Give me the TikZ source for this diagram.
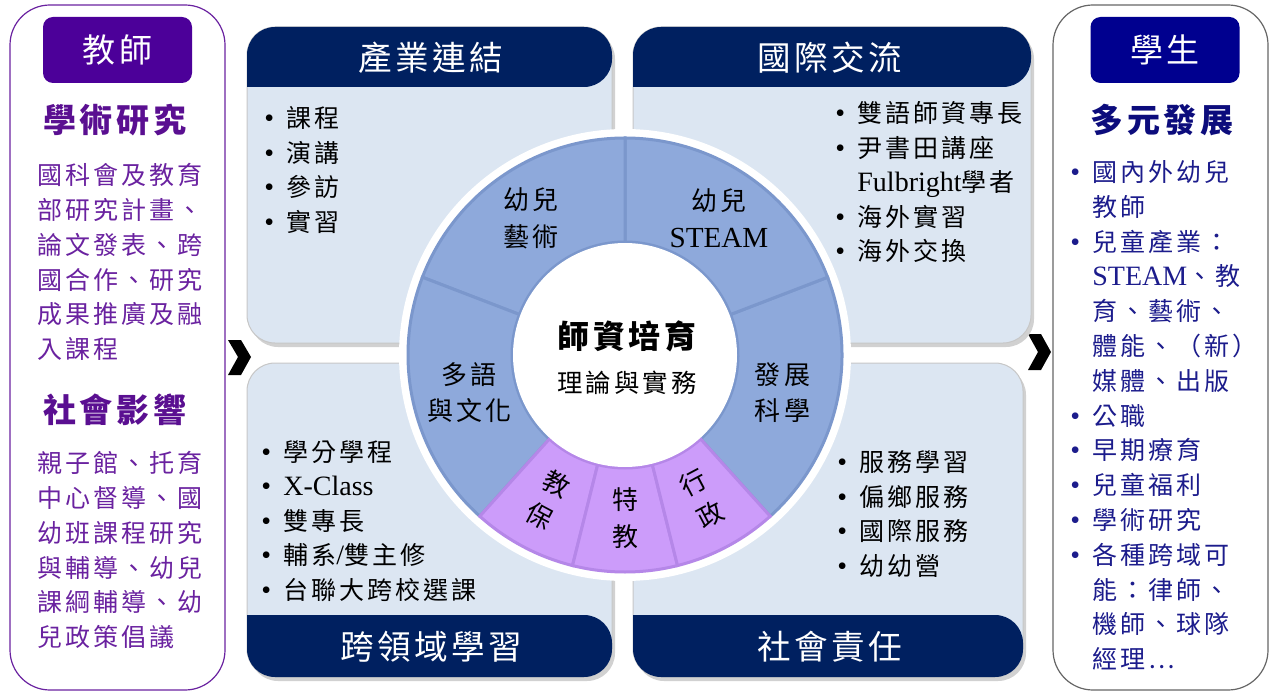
\documentclass[tikz,border=0pt]{standalone}
\usepackage{fontspec}
\setmainfont{Liberation Serif}
\newfontfamily\cjk[LetterSpace=12]{Noto Sans CJK TC}
\newfontfamily\cjkhd[LetterSpace=10]{Noto Sans CJK TC}
\newfontfamily\lat[Scale=1.12]{Liberation Serif}

\definecolor{navyhead}{HTML}{002060}
\definecolor{qbody}{HTML}{DCE6F2}
\definecolor{ringblue}{HTML}{8EA9DB}
\definecolor{ringline}{HTML}{7B97CC}
\definecolor{ringpurple}{HTML}{CC9CFA}
\definecolor{ringpline}{HTML}{B587E8}
\definecolor{tagpurple}{HTML}{4C0099}
\definecolor{headpurple}{HTML}{5A0F91}
\definecolor{txtpurple}{HTML}{6A22A0}
\definecolor{tagnavy}{HTML}{00008F}
\definecolor{headnavy}{HTML}{0C0C7C}
\definecolor{txtnavy}{HTML}{1C1C8C}

\newcommand\bul{\makebox[11pt][l]{\lat\textbullet}}
\newcommand\ind{\hspace*{11pt}}

\tikzset{
  qshadow/.style={fill=black!18, rounded corners=14pt},
  qbox/.style={fill=qbody, draw=black!22, line width=0.5pt, rounded corners=14pt},
  quadhead/.style={text=white, font=\cjkhd\fontsize{16.8}{20}\selectfont},
  listtext/.style={anchor=north west, inner sep=0pt, align=left,
    font=\cjk\fontsize{12.5}{17.3}\selectfont},
  sidetext/.style={anchor=north west, inner sep=0pt, align=left,
    font=\cjk\fontsize{12.5}{17.4}\selectfont},
  sidehead/.style={font=\cjk\bfseries\fontsize{16.5}{20}\selectfont},
  tagbox/.style={text=white, rounded corners=5pt, minimum width=74.5pt,
    minimum height=33pt, font=\cjkhd\fontsize{16.5}{20}\selectfont},
  seglabel/.style={align=center, inner sep=0pt,
    font=\cjk\fontsize{13}{18.2}\selectfont}
}

\begin{document}
\begin{tikzpicture}[x=0.5pt, y=-0.5pt]
  \useasboundingbox (0,0) rectangle (1273,695);
  \fill[white] (0,0) rectangle (1273,695);

  % teacher panel
  \draw[txtpurple, line width=0.6pt, rounded corners=20pt] (10,5) rectangle (225,690);
  \node[tagbox, fill=tagpurple] (teacher) at (117.5,50) {教師};
  \node[sidehead, text=headpurple] (research) at (115,120) {學術研究};
  \node[sidetext, text=txtpurple] (researchtxt) at (37,163)
    {國科會及教育\\部研究計畫、\\論文發表、跨\\國合作、研究\\成果推廣及融\\入課程};
  \node[sidehead, text=headpurple] (impact) at (115,410) {社會影響};
  \node[sidetext, text=txtpurple] (impacttxt) at (37,451)
    {親子館、托育\\中心督導、國\\幼班課程研究\\與輔導、幼兒\\課綱輔導、幼\\兒政策倡議};

  % student panel
  \draw[black!60, line width=0.6pt, rounded corners=20pt] (1053,5) rectangle (1268,690);
  \node[tagbox, fill=tagnavy] (student) at (1165,50) {學生};
  \node[sidehead, text=headnavy] (growth) at (1162,120) {多元發展};
  \node[sidetext, text=txtnavy] (growthtxt) at (1070,160)
    {\bul 國內外幼兒\\ \ind 教師\\ \bul 兒童產業：\\ \ind{\lat STEAM}、教\\ \ind 育、藝術、\\
     \ind 體能、（新）\\ \ind 媒體、出版\\ \bul 公職\\ \bul 早期療育\\ \bul 兒童福利\\
     \bul 學術研究\\ \bul 各種跨域可\\ \ind 能：律師、\\ \ind 機師、球隊\\ \ind 經理…};

  % chevrons
  \fill (228,340) -- (241,340) -- (251,357) -- (241,375) -- (228,375) -- (238,357) -- cycle;
  \fill (1028,334) -- (1041,334) -- (1051,352) -- (1041,370) -- (1028,370) -- (1038,352) -- cycle;

  % four quadrants
  \fill[qshadow] (250,31) rectangle (615,347);
  \filldraw[qbox] (247,27) rectangle (612,343);
  \fill[navyhead] (247,87) [rounded corners=14pt] -- (247,27) -- (612,27) -- (612,87) [sharp corners] -- cycle;
  \fill[qshadow] (636,31) rectangle (1034,347);
  \filldraw[qbox] (633,27) rectangle (1031,343);
  \fill[navyhead] (633,87) [rounded corners=14pt] -- (633,27) -- (1031,27) -- (1031,87) [sharp corners] -- cycle;
  \fill[qshadow] (250,367) rectangle (615,681);
  \filldraw[qbox] (247,363) rectangle (612,677);
  \fill[navyhead] (247,615) [rounded corners=14pt] -- (247,677) -- (612,677) -- (612,615) [sharp corners] -- cycle;
  \fill[qshadow] (636,367) rectangle (1026,681);
  \filldraw[qbox] (633,363) rectangle (1023,677);
  \fill[navyhead] (633,615) [rounded corners=14pt] -- (633,677) -- (1023,677) -- (1023,615) [sharp corners] -- cycle;

  \node[quadhead] (industry) at (431,58) {產業連結};
  \node[quadhead] (global) at (830,58) {國際交流};
  \node[quadhead] (crossfield) at (431,647) {跨領域學習};
  \node[quadhead] (social) at (830,647) {社會責任};

  \node[listtext] (industrytxt) at (264,106) {\bul 課程\\ \bul 演講\\ \bul 參訪\\ \bul 實習};
  \node[listtext] (globaltxt) at (835,101)
    {\bul 雙語師資專長\\ \bul 尹書田講座\\ \ind{\lat Fulbright}學者\\ \bul 海外實習\\ \bul 海外交換};
  \node[listtext] (crossfieldtxt) at (261,440)
    {\bul 學分學程\\ \bul {\lat X-Class}\\ \bul 雙專長\\ \bul 輔系{\lat /}雙主修\\ \bul 台聯大跨校選課};
  \node[listtext] (socialtxt) at (837,450)
    {\bul 服務學習\\ \bul 偏鄉服務\\ \bul 國際服務\\ \bul 幼幼營};

  % ring
  \begin{scope}[shift={(625,355)}, yscale=-1]
    \fill[white] (0,0) circle (226);
    \foreach \a/\b in {-48/21, 21/90, 90/159, 159/228}
      \filldraw[fill=ringblue, draw=ringline, line width=1.5pt]
        (\a:217) arc[start angle=\a, end angle=\b, radius=217]
        -- (\b:113) arc[start angle=\b, end angle=\a, radius=113] -- cycle;
    \foreach \a/\b in {-132/-104, -104/-76, -76/-48}
      \filldraw[fill=ringpurple, draw=ringpline, line width=1.5pt]
        (\a:217) arc[start angle=\a, end angle=\b, radius=217]
        -- (\b:113) arc[start angle=\b, end angle=\a, radius=113] -- cycle;
    \fill[white] (0,0) circle (112);
    \node[seglabel] (arts) at (124.5:166) {幼兒\\藝術};
    \node[seglabel] (steam) at (55.5:166) {幼兒\\{\lat STEAM}};
    \node[seglabel] (multilang) at (193.5:160) {多語\\與文化};
    \node[seglabel] (devsci) at (-13.5:162) {發展\\科學};
    \node[seglabel, rotate=-28] (care) at (-118:164) {教\\保};
    \node[seglabel] (special) at (-90:163) {特\\教};
    \node[seglabel, rotate=28] (admin) at (-62:163) {行\\政};
  \end{scope}
  \node[font=\cjk\bfseries\fontsize{16}{20}\selectfont] (core) at (627,336) {師資培育};
  \node[font=\cjk\fontsize{12.7}{16}\selectfont] (coresub) at (627,383) {理論與實務};
\end{tikzpicture}
\end{document}
